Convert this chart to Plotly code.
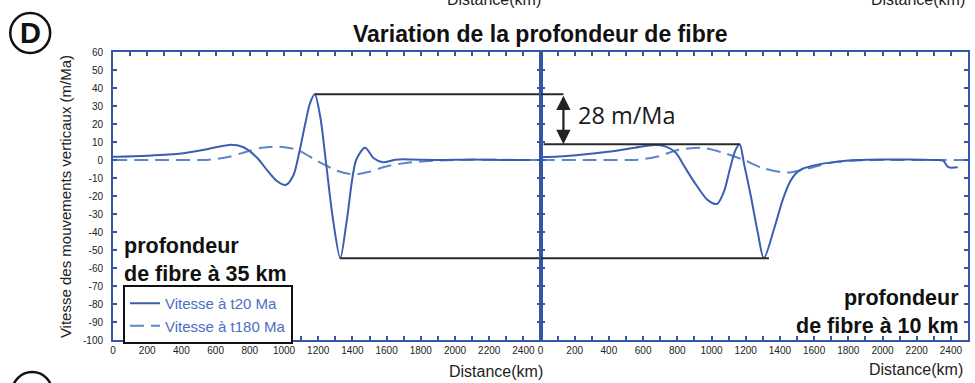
import plotly.graph_objects as go

# ---------------- data (distance km, vertical velocity m/Ma) ----------------
# Left panel : fibre depth 35 km
left_t20_x = [0, 200, 400, 550, 680, 760, 840, 900, 960, 1012, 1055, 1090, 1126, 1152, 1180,
              1212, 1244, 1285, 1329, 1368, 1422, 1474, 1525, 1580, 1650, 1750, 1900, 2100, 2300, 2440]
left_t20_y = [1.8, 2.4, 3.6, 6.0, 8.4, 7.2, 1.5, -5.5, -11.8, -13.8, -8.5, 4.6, 21.0, 31.5, 36.5,
              24.0, 0.0, -32.0, -54.6, -33.0, 0.0, 6.8, 1.0, -1.3, 0.2, 0.3, 0.0, 0.3, 0.0, 0.0]

left_t180_x = [0, 300, 560, 680, 780, 870, 975, 1080, 1184, 1242, 1310, 1407, 1500, 1591, 1700, 1843, 2000, 2500]
left_t180_y = [0.0, 0.0, 0.2, 1.8, 4.6, 6.8, 7.4, 5.6, 0.0, -2.8, -6.0, -8.0, -6.5, -3.7, -1.8, -0.6, 0.0, 0.0]

# Right panel : fibre depth 10 km
right_t20_x = [0, 105, 250, 395, 550, 667, 730, 790, 841, 880, 919, 975, 1033, 1075, 1105, 1140, 1165,
               1190, 1230, 1270, 1306, 1364, 1417, 1460, 1494, 1530, 1600, 1733, 1850, 2000,
               2150, 2300, 2355, 2385, 2440]
right_t20_y = [1.6, 1.9, 3.0, 4.6, 6.8, 8.4, 7.6, 4.2, -3.5, -9.5, -15.0, -22.0, -24.4, -17.0, -6.0, 5.5, 8.8,
               -2.0, -20.0, -40.0, -54.6, -38.9, -22.0, -12.0, -7.4, -5.0, -3.0, -0.9, 0.0, 0.3,
               0.3, 0.0, -0.4, -4.0, -4.0]

right_t180_x = [0, 300, 570, 686, 802, 940, 1068, 1190, 1300, 1443, 1570, 1700, 1850, 2000, 2500]
right_t180_y = [0.0, 0.0, 0.2, 1.9, 5.5, 6.8, 4.0, 0.0, -4.5, -7.0, -4.6, -1.5, -0.3, 0.0, 0.0]

# construction-line extents (km) on the right panel
arrow_x = 134
mid_line_start = 18
bottom_line_end = 1336
x_max = 2500

x_tick_vals = [0, 200, 400, 600, 800, 1000, 1200, 1400, 1600, 1800, 2000, 2200, 2400]
x_tick_text = ["0", "200", "400", "600", "800", "1000", "1200", "1400", "1600", "1800", "2000", "2200", "2400"]
y_tick_vals = [60, 50, 40, 30, 20, 10, 0, -10, -20, -30, -40, -50, -60, -70, -80, -90, -100]
y_tick_text = ["60", "50", "40", "30", "20", "10", "0", "-10", "-20", "-30", "-40", "-50",
               "-60", "-70", "-80", "-90", "-100"]

legend_names = ["Vitesse à t20 Ma", "Vitesse à t180 Ma"]

# ---------------- derived construction values ----------------
i_top = left_t20_y.index(max(left_t20_y))
top_x, top_y = left_t20_x[i_top], left_t20_y[i_top]
i_bot = left_t20_y.index(min(left_t20_y))
bot_x, bot_y = left_t20_x[i_bot], left_t20_y[i_bot]
# right-panel narrow positive peak (before the main trough)
cand = [(v, x) for x, v in zip(right_t20_x, right_t20_y) if 1100 < x < 1250]
mid_y, mid_x = max(cand)

# ---------------- styling ----------------
W, H = 975, 383
ML, MR, MT, MB = 113, 5, 52, 43
PW, PH = W - ML - MR, H - MT - MB


def px(xp):
    return (xp - ML) / PW


def py(yp):
    return (H - MB - yp) / PH


AX = "#3456a6"
SOLID = "#3b5db2"
DASHC = "#5a86cc"
BLACK = "#2a2a2a"
FONT = "Liberation Sans, Arial, sans-serif"
DASHPAT = "14px,7px"

fig = go.Figure()

# left panel curves
fig.add_trace(go.Scatter(x=left_t180_x, y=left_t180_y, mode="lines", name=legend_names[1],
                         line=dict(color=DASHC, width=2, dash=DASHPAT, shape="spline", smoothing=0.8),
                         xaxis="x", yaxis="y", legendrank=2))
fig.add_trace(go.Scatter(x=left_t20_x, y=left_t20_y, mode="lines", name=legend_names[0],
                         line=dict(color=SOLID, width=2, shape="spline", smoothing=0.8),
                         xaxis="x", yaxis="y", legendrank=1))
# right panel curves
fig.add_trace(go.Scatter(x=right_t180_x, y=right_t180_y, mode="lines", showlegend=False,
                         line=dict(color=DASHC, width=2, dash=DASHPAT, shape="spline", smoothing=0.8),
                         xaxis="x2", yaxis="y2"))
fig.add_trace(go.Scatter(x=right_t20_x, y=right_t20_y, mode="lines", showlegend=False,
                         line=dict(color=SOLID, width=2, shape="spline", smoothing=0.8),
                         xaxis="x2", yaxis="y2"))

# construction lines
blk = dict(color=BLACK, width=2)
fig.add_trace(go.Scatter(x=[top_x, x_max], y=[top_y, top_y], mode="lines", line=blk,
                         showlegend=False, xaxis="x", yaxis="y", cliponaxis=False))
fig.add_trace(go.Scatter(x=[0, arrow_x], y=[top_y, top_y], mode="lines", line=blk,
                         showlegend=False, xaxis="x2", yaxis="y2", cliponaxis=False))
fig.add_trace(go.Scatter(x=[mid_line_start, mid_x], y=[mid_y, mid_y], mode="lines", line=blk,
                         showlegend=False, xaxis="x2", yaxis="y2"))
fig.add_trace(go.Scatter(x=[bot_x, x_max], y=[bot_y, bot_y], mode="lines", line=blk,
                         showlegend=False, xaxis="x", yaxis="y", cliponaxis=False))
fig.add_trace(go.Scatter(x=[0, bottom_line_end], y=[bot_y, bot_y], mode="lines", line=blk,
                         showlegend=False, xaxis="x2", yaxis="y2", cliponaxis=False))

common_x = dict(range=[0, x_max], showline=True, linecolor=AX, linewidth=2, mirror="ticks",
                ticks="inside", ticklen=4, tickwidth=1.5, tickcolor=AX,
                tickmode="array", tickvals=x_tick_vals, ticktext=x_tick_text,
                minor=dict(dtick=100, tick0=0, ticks="inside", ticklen=4, tickwidth=1.5, tickcolor=AX),
                showgrid=False, zeroline=False,
                tickfont=dict(family=FONT, size=10, color="#222222"))
common_y = dict(range=[-100, 60], showline=True, linecolor=AX, linewidth=2, mirror="ticks",
                ticks="inside", ticklen=4, tickwidth=1.5, tickcolor=AX,
                tickmode="array", tickvals=y_tick_vals, ticktext=y_tick_text,
                showgrid=False, zeroline=False,
                tickfont=dict(family=FONT, size=10, color="#222222"))

fig.update_layout(
    width=W, height=H,
    margin=dict(l=ML, r=MR, t=MT, b=MB, pad=0),
    paper_bgcolor="white", plot_bgcolor="white",
    xaxis=dict(domain=[0, 0.5], anchor="y", **common_x),
    xaxis2=dict(domain=[0.5, 1], anchor="y2", **common_x),
    yaxis=dict(domain=[0, 1], anchor="x", ticklabelstandoff=6, **common_y),
    yaxis2=dict(domain=[0, 1], anchor="x2", showticklabels=False, **common_y),
    showlegend=True,
    legend=dict(x=px(123), y=py(285), xanchor="left", yanchor="top",
                bgcolor="white", bordercolor="#111111", borderwidth=2,
                font=dict(family=FONT, size=15, color="#4a6fc2"),
                tracegroupgap=0, itemwidth=30),
    font=dict(family=FONT),
)

ann = []
# title
ann.append(dict(text="<b>Variation de la profondeur de fibre</b>", x=px(541), y=py(34),
                xref="paper", yref="paper", xanchor="center", yanchor="middle", showarrow=False,
                font=dict(family=FONT, size=23, color="#111111")))
# y-axis title
ann.append(dict(text="Vitesse des mouvements verticaux (m/Ma)", x=px(65), y=py(197),
                xref="paper", yref="paper", xanchor="center", yanchor="middle", showarrow=False,
                textangle=-90, font=dict(family=FONT, size=15, color="#222222")))
# x-axis titles (bottom)
ann.append(dict(text="Distance(km)", x=px(497), y=py(371), xref="paper", yref="paper",
                xanchor="center", yanchor="middle", showarrow=False,
                font=dict(family=FONT, size=16, color="#222222")))
ann.append(dict(text="Distance(km)", x=px(967), y=py(369), xref="paper", yref="paper",
                xanchor="right", yanchor="middle", showarrow=False,
                font=dict(family=FONT, size=16, color="#222222")))
# clipped titles of the panel above
ann.append(dict(text="Distance(km)", x=px(495), y=py(-1), xref="paper", yref="paper",
                xanchor="center", yanchor="middle", showarrow=False,
                font=dict(family=FONT, size=16, color="#222222")))
ann.append(dict(text="Distance(km)", x=px(969), y=py(-1), xref="paper", yref="paper",
                xanchor="right", yanchor="middle", showarrow=False,
                font=dict(family=FONT, size=16, color="#222222")))
# panel labels
ann.append(dict(text="<b>profondeur<br>de fibre à 35 km</b>", x=px(122), y=py(260),
                xref="paper", yref="paper", xanchor="left", yanchor="middle", align="left",
                showarrow=False, font=dict(family=FONT, size=21.5, color="#111111")))
ann.append(dict(text="<b>profondeur<br>de fibre à 10 km</b>", x=px(963), y=py(312),
                xref="paper", yref="paper", xanchor="right", yanchor="middle", align="right",
                showarrow=False, font=dict(family=FONT, size=21.5, color="#111111")))
# double arrow and its label
ann.append(dict(x=arrow_x, y=mid_y, ax=arrow_x, ay=top_y, xref="x2", yref="y2",
                axref="x2", ayref="y2", showarrow=True, arrowhead=2, arrowside="end+start",
                arrowsize=1.3, arrowwidth=2.2, arrowcolor="#222222", text="",
                standoff=0, startstandoff=0))
ann.append(dict(text="28 m/Ma", x=px(577), y=py(115), xref="paper", yref="paper",
                xanchor="left", yanchor="middle", showarrow=False,
                font=dict(family="Open Sans, sans-serif", size=23.5, color="#1a1a1a")))
# letters in circles
ann.append(dict(text="<b>D</b>", x=px(30), y=py(33), xref="paper", yref="paper",
                xanchor="center", yanchor="middle", showarrow=False,
                font=dict(family=FONT, size=29, color="#111111")))
ann.append(dict(text="<b>E</b>", x=px(32), y=py(393), xref="paper", yref="paper",
                xanchor="center", yanchor="middle", showarrow=False,
                font=dict(family=FONT, size=29, color="#111111")))

shapes = [
    dict(type="circle", xref="paper", yref="paper", x0=px(10), x1=px(50), y0=py(53), y1=py(13),
         line=dict(color="#111111", width=2.5)),
    dict(type="circle", xref="paper", yref="paper", x0=px(12), x1=px(52), y0=py(412), y1=py(372),
         line=dict(color="#111111", width=2.5)),
]

fig.update_layout(annotations=ann, shapes=shapes)
fig.write_html("out.html", config={"displayModeBar": False},
               post_script="document.body.style.margin='0px';document.body.style.overflow='hidden';")
